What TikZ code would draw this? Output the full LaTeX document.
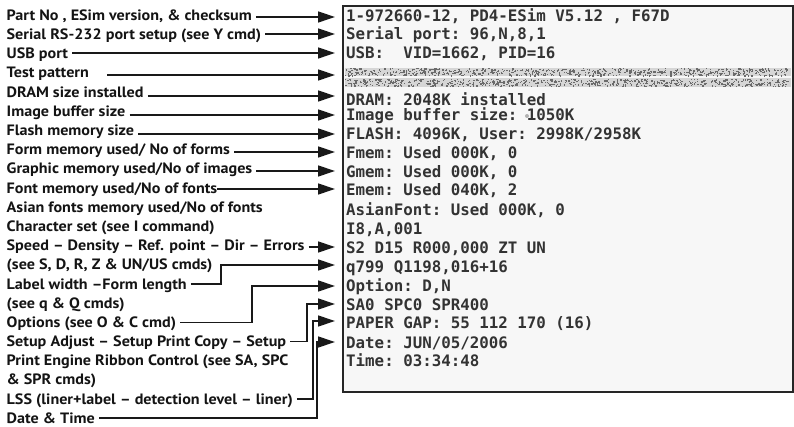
\documentclass[tikz,border=0pt]{standalone}
\usepackage{fontspec}
\setsansfont[FakeStretch=1.075]{PT Sans}
\setmonofont{DejaVu Sans Mono}
\usetikzlibrary{arrows.meta,calc}

\begin{document}
\begin{tikzpicture}[x=1pt, y=-1pt,
  lab/.style={anchor=base west, inner xsep=4pt, inner ysep=0pt,
              text height=10pt, text depth=0pt, text=black!92,
              font=\sffamily\bfseries\fontsize{15}{17}\selectfont},
  row/.style={anchor=base west, inner sep=0pt, text=black!80,
              font=\ttfamily\bfseries\fontsize{15.8}{18}\selectfont},
  arr/.style={-{Triangle[length=17pt,width=11pt]}, line width=1.3pt, draw=black!90}]
\useasboundingbox (0,0) rectangle (794,427);

% printout
\draw[line width=2pt, draw=black!85, fill=black!3] (343,6) rectangle (793,392);
\node[row] (r1)  at (346,22)    {1-972660-12, PD4-ESim V5.12 , F67D};
\node[row] (r2)  at (346,39.5)  {Serial port: 96,N,8,1};
\node[row] (r3)  at (346,58.5)  {USB:\ \ VID=1662, PID=16};
\node[row] (r5)  at (346,105.5) {DRAM: 2048K installed};
\node[row] (r6)  at (346,121)   {Image buffer size: 1050K};
\node[row] (r7)  at (346,139.5) {FLASH: 4096K, User: 2998K/2958K};
\node[row] (r8)  at (346,159)   {Fmem: Used 000K, 0};
\node[row] (r9)  at (346,177.5) {Gmem: Used 000K, 0};
\node[row] (r10) at (346,195.5) {Emem: Used 040K, 2};
\node[row] (r11) at (346,215.5) {AsianFont: Used 000K, 0};
\node[row] (r12) at (346,234.5) {I8,A,001};
\node[row] (r13) at (346,253.5) {S2 D15 R000,000 ZT UN};
\node[row] (r14) at (346,272.5) {q799 Q1198,016+16};
\node[row] (r15) at (346,291.5) {Option: D,N};
\node[row] (r16) at (346,310.5) {SA0 SPC0 SPR400};
\node[row] (r17) at (346,328.5) {PAPER GAP: 55 112 170 (16)};
\node[row] (r18) at (346,348.5) {Date: JUN/05/2006};
\node[row] (r19) at (346,366.5) {Time: 03:34:48};
\fill[black!30] (527,116) circle (2);

% test pattern band
\fill[black!16] (345,68) rectangle (791,76.5);
\fill[black!16] (345,78.5) rectangle (791,87);
\pgfmathsetseed{11}
\foreach \k in {1,...,1400}{
  \pgfmathsetmacro{\xx}{345+444*rnd}
  \pgfmathsetmacro{\yy}{68+7.5*rnd+10.5*mod(\k,2)}
  \fill[black!58] (\xx,\yy) rectangle ++(1.3,1.3);
}

% labels
\node[lab] (l1)  at (2.5,20.5)  {Part No , ESim version, \& checksum};
\node[lab] (l2)  at (2.5,39.7)  {Serial RS-232 port setup (see Y cmd)};
\node[lab] (l3)  at (2.5,58.9)  {USB port};
\node[lab] (l4)  at (2.5,78.0)  {Test pattern};
\node[lab] (l5)  at (2.5,97.2)  {DRAM size installed};
\node[lab] (l6)  at (2.5,116.4) {Image buffer size};
\node[lab] (l7)  at (2.5,135.6) {Flash memory size};
\node[lab] (l8)  at (2.5,154.7) {Form memory used/ No of forms};
\node[lab] (l9)  at (2.5,173.9) {Graphic memory used/No of images};
\node[lab] (l10) at (2.5,193.1) {Font memory used/No of fonts};
\node[lab] (l11) at (2.5,212.3) {Asian fonts memory used/No of fonts};
\node[lab] (l12) at (2.5,231.4) {Character set (see I command)};
\node[lab] (l13) at (2.5,250.6) {Speed – Density – Ref. point – Dir – Errors};
\node[lab] (l14) at (2.5,269.8) {(see S, D, R, Z \& UN/US cmds)};
\node[lab] (l15) at (2.5,289.0) {Label width –Form length};
\node[lab] (l16) at (2.5,308.1) {(see q \& Q cmds)};
\node[lab] (l17) at (2.5,327.3) {Options (see O \& C cmd)};
\node[lab] (l18) at (2.5,346.5) {Setup Adjust – Setup Print Copy – Setup};
\node[lab] (l19) at (2.5,365.7) {Print Engine Ribbon Control (see SA, SPC};
\node[lab] (l20) at (2.5,384.8) {\& SPR cmds)};
\node[lab] (l21) at (2.5,404.0) {LSS (liner+label – detection level – liner)};
\node[lab] (l22) at (2.5,423.0) {Date \& Time};

% arrow tips and bends
\coordinate (t1) at (335,17);
\coordinate (t2) at (335,34);
\coordinate (t3) at (335,53);
\coordinate (t4) at (335,75);
\coordinate (t5) at (335,96);
\coordinate (t6) at (335,115);
\coordinate (t7) at (335,134);
\coordinate (t8) at (335,152);
\coordinate (t9) at (335,171);
\coordinate (t10) at (335,189);
\coordinate (t13) at (335,247);
\coordinate (b15) at (221,265);
\coordinate (t15) at (335,265);
\coordinate (b17) at (252,286);
\coordinate (t17) at (335,286);
\coordinate (b18) at (307,304);
\coordinate (t18) at (335,304);
\coordinate (b21) at (313,321);
\coordinate (t21) at (335,321);
\coordinate (b22) at (317,342);
\coordinate (t22) at (335,342);

\draw[arr] (l1.east |- t1) -- (t1);
\draw[arr] (l2.east |- t2) -- (t2);
\draw[arr] (l3.east |- t3) -- (t3);
\draw[arr, shorten <=14pt] (l4.east |- t4) -- (t4);
\draw[arr] (l5.east |- t5) -- (t5);
\draw[arr] (l6.east |- t6) -- (t6);
\draw[arr] (l7.east |- t7) -- (t7);
\draw[arr] (l8.east |- t8) -- (t8);
\draw[arr] (l9.east |- t9) -- (t9);
\draw[arr, shorten <=-4pt] (l10.east |- t10) -- (t10);
\draw[arr] (l13.east |- t13) -- (t13);
\draw[arr] (l15.east) -| (b15) -- (t15);
\draw[arr] (l17.east) -| (b17) -- (t17);
\draw[arr] (l18.east) -| (b18) -- (t18);
\draw[arr] (l21.east) -| (b21) -- (t21);
\draw[arr] (l22.east) -| (b22) -- (t22);
\end{tikzpicture}
\end{document}
